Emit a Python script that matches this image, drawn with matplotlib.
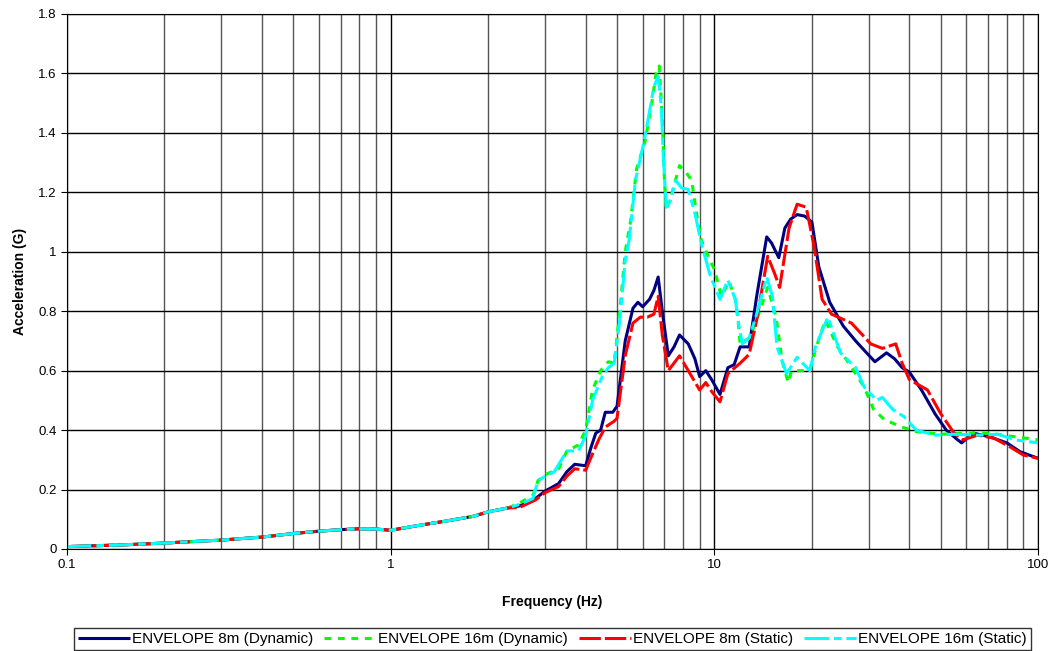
import numpy as np
import matplotlib.pyplot as plt
from matplotlib.ticker import FixedLocator, LogLocator, NullFormatter

plt.rcParams['font.family'] = ['Liberation Sans', 'DejaVu Sans']

# shared low-frequency portion of all four envelopes
freq_low = [0.1, 0.15, 0.2, 0.3, 0.4, 0.5, 0.6, 0.7, 0.8, 0.9, 1.0, 1.2, 1.5, 1.8, 2.0, 2.3]
acc_low = [0.008, 0.014, 0.02, 0.03, 0.04, 0.052, 0.06, 0.065, 0.068, 0.067, 0.063,
           0.078, 0.095, 0.11, 0.125, 0.138]

# ENVELOPE 8m (Dynamic)
freq_dyn8 = [2.5, 2.7, 2.8, 3.0, 3.3, 3.5, 3.7, 4.0, 4.15, 4.3, 4.45, 4.6, 4.85, 5.0,
             5.3, 5.6, 5.8, 6.0, 6.3, 6.5, 6.7, 6.9, 7.2, 7.5, 7.8, 8.3, 8.7, 9.0, 9.4,
             9.8, 10.4, 11.0, 11.5, 12.0, 12.8, 13.5, 14.5, 15.0, 15.8, 16.5, 17.2, 18.0,
             19.0, 20.0, 21.0, 22.7, 25.0, 27.3, 29.5, 31.3, 34.0, 36.0, 38.0, 40.0,
             43.6, 48.0, 52.0, 56.0, 58.0, 63.0, 71.0, 80.0, 88.0, 100.0]
acc_dyn8 = [0.145, 0.16, 0.17, 0.195, 0.22, 0.26, 0.285, 0.28, 0.34, 0.39, 0.40, 0.46,
            0.46, 0.48, 0.70, 0.81, 0.83, 0.815, 0.84, 0.87, 0.915, 0.80, 0.65, 0.68,
            0.72, 0.69, 0.64, 0.58, 0.60, 0.57, 0.52, 0.61, 0.62, 0.68, 0.68, 0.85, 1.05,
            1.03, 0.98, 1.08, 1.11, 1.125, 1.12, 1.10, 0.95, 0.83, 0.75, 0.70, 0.66, 0.63,
            0.66, 0.64, 0.61, 0.595, 0.535, 0.455, 0.40, 0.37, 0.357, 0.39, 0.377, 0.357,
            0.327, 0.305]

# ENVELOPE 16m (Dynamic)
freq_dyn16 = [2.5, 2.75, 2.85, 3.0, 3.3, 3.5, 3.8, 4.0, 4.2, 4.45, 4.7, 4.9, 5.1, 5.3,
              5.5, 5.75, 6.1, 6.4, 6.6, 6.75, 6.9, 7.0, 7.1, 7.4, 7.8, 8.2, 8.5, 8.8,
              9.1, 9.6, 10.0, 10.5, 11.1, 11.6, 11.8, 12.0, 12.8, 13.5, 14.6, 15.5, 16.2,
              16.9, 17.3, 19.7, 20.5, 22.0, 24.0, 26.0, 29.0, 31.0, 33.5, 38.0, 42.0,
              50.0, 60.0, 70.0, 100.0]
acc_dyn16 = [0.155, 0.18, 0.23, 0.25, 0.27, 0.33, 0.35, 0.40, 0.535, 0.60, 0.63, 0.625,
             0.80, 1.0, 1.10, 1.28, 1.37, 1.50, 1.60, 1.625, 1.45, 1.25, 1.14, 1.20,
             1.29, 1.265, 1.24, 1.13, 1.04, 0.98, 0.94, 0.85, 0.90, 0.84, 0.78, 0.69,
             0.71, 0.77, 0.88, 0.78, 0.63, 0.56, 0.60, 0.60, 0.67, 0.77, 0.68, 0.625,
             0.545, 0.47, 0.435, 0.41, 0.395, 0.386, 0.39, 0.39, 0.367]

# ENVELOPE 8m (Static)
freq_sta8 = [2.5, 2.8, 3.0, 3.3, 3.5, 3.7, 4.0, 4.2, 4.4, 4.6, 4.9, 5.0, 5.3, 5.6, 5.9,
             6.2, 6.5, 6.7, 6.9, 7.2, 7.8, 8.3, 9.0, 9.4, 9.8, 10.4, 11.0, 12.0, 12.8,
             13.5, 14.6, 15.3, 15.9, 16.3, 17.0, 18.0, 19.2, 20.3, 21.5, 23.0, 26.5,
             30.4, 33.0, 36.3, 38.0, 40.0, 45.5, 50.0, 55.0, 58.5, 65.0, 73.0, 82.0,
             90.0, 100.0]
acc_sta8 = [0.14, 0.165, 0.19, 0.21, 0.245, 0.27, 0.265, 0.32, 0.37, 0.41, 0.43, 0.44,
            0.65, 0.76, 0.78, 0.78, 0.79, 0.85, 0.72, 0.60, 0.65, 0.60, 0.535, 0.56,
            0.53, 0.495, 0.59, 0.625, 0.655, 0.77, 0.985, 0.93, 0.88, 0.955, 1.08, 1.16,
            1.15, 1.02, 0.84, 0.79, 0.76, 0.69, 0.675, 0.69, 0.625, 0.57, 0.535, 0.455,
            0.39, 0.367, 0.383, 0.373, 0.343, 0.316, 0.305]

# ENVELOPE 16m (Static)
freq_sta16 = [2.5, 2.75, 2.85, 3.0, 3.2, 3.5, 3.6, 3.8, 4.0, 4.2, 4.5, 4.7, 4.9, 5.1,
              5.3, 5.45, 5.7, 6.0, 6.2, 6.5, 6.7, 6.85, 6.95, 7.1, 7.3, 7.6, 7.9, 8.3,
              8.7, 9.1, 9.7, 10.4, 11.0, 11.6, 11.9, 12.2, 12.8, 13.5, 14.5, 15.1, 15.6,
              16.7, 18.0, 19.7, 20.5, 22.4, 24.5, 27.3, 29.0, 31.7, 33.0, 35.5, 38.5,
              42.0, 48.0, 55.0, 65.0, 75.0, 85.0, 100.0]
acc_sta16 = [0.15, 0.17, 0.23, 0.245, 0.26, 0.33, 0.33, 0.33, 0.38, 0.50, 0.58, 0.61,
             0.625, 0.77, 0.97, 1.04, 1.24, 1.35, 1.43, 1.555, 1.59, 1.49, 1.32, 1.15,
             1.17, 1.24, 1.215, 1.21, 1.13, 1.03, 0.92, 0.84, 0.905, 0.84, 0.75, 0.69,
             0.71, 0.79, 0.915, 0.85, 0.68, 0.59, 0.645, 0.60, 0.68, 0.78, 0.66, 0.61,
             0.545, 0.50, 0.51, 0.47, 0.445, 0.40, 0.383, 0.386, 0.383, 0.386, 0.367,
             0.357]

series = [
    ('ENVELOPE 8m (Dynamic)', freq_dyn8, acc_dyn8, '#000080', '-'),
    ('ENVELOPE 16m (Dynamic)', freq_dyn16, acc_dyn16, '#00ff00', (0, (2.2, 2.2))),
    ('ENVELOPE 8m (Static)', freq_sta8, acc_sta8, '#ff0000', (0, (7, 1.3))),
    ('ENVELOPE 16m (Static)', freq_sta16, acc_sta16, '#00ffff', (0, (8, 1.6, 2.5, 1.6))),
]

fig = plt.figure(figsize=(10.54, 6.51), dpi=100)
ax = fig.add_axes([0.0636, 0.1567, 0.9214, 0.8218])

for label, f, a, color, ls in series:
    ax.plot(freq_low + f, acc_low + a, color=color, linestyle=ls, linewidth=2.2,
            label=label, solid_capstyle='butt', dash_capstyle='butt')

ax.set_xscale('log')
ax.set_xlim(0.1, 100)
ax.set_ylim(0, 1.8)
ax.xaxis.set_major_locator(FixedLocator([0.1, 1, 10, 100]))
ax.set_xticklabels(['0.1', '1', '10', '100'])
ax.xaxis.set_minor_locator(LogLocator(base=10, subs=np.arange(2, 10)))
ax.xaxis.set_minor_formatter(NullFormatter())
ax.set_yticks(np.arange(0, 1.81, 0.2))
ax.set_yticklabels(['0', '0.2', '0.4', '0.6', '0.8', '1', '1.2', '1.4', '1.6', '1.8'])

ax.grid(True, which='major', color='black', linewidth=1.0)
ax.grid(True, which='minor', axis='x', color='#555555', linewidth=1.0)
ax.set_axisbelow(True)
ax.tick_params(axis='both', which='major', labelsize=9.5, length=4, direction='out')
ax.tick_params(axis='x', which='minor', length=0)
for sp in ax.spines.values():
    sp.set_color('black')

ax.set_xlabel('Frequency (Hz)', fontsize=10, fontweight='bold', labelpad=17)
ax.set_ylabel('Acceleration (G)', fontsize=10, fontweight='bold', labelpad=8)

leg = fig.legend(loc='lower center', bbox_to_anchor=(0.524, 0.002), ncol=4,
                 fontsize=11, frameon=True, fancybox=False, handlelength=3.4,
                 handletextpad=0.15, columnspacing=0.7, borderpad=0.25,
                 borderaxespad=0.0)
leg.get_frame().set_edgecolor('black')
leg.get_frame().set_linewidth(1.0)

fig.savefig('out.png', dpi=100)
